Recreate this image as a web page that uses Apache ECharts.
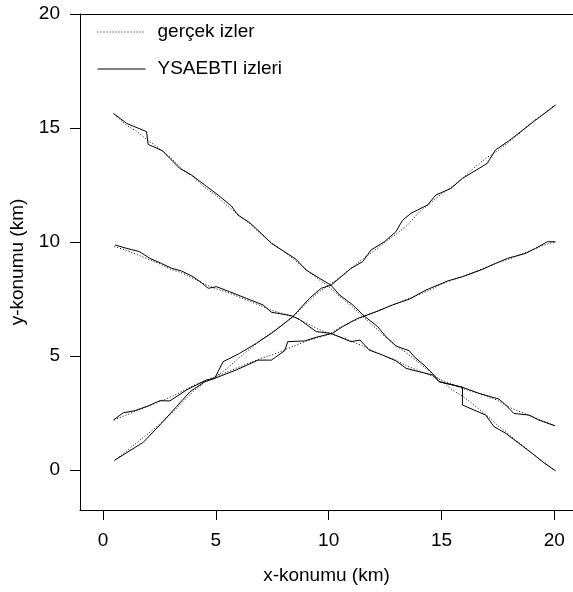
<!DOCTYPE html>
<html>
<head>
<meta charset="utf-8">
<script src="https://cdn.jsdelivr.net/npm/echarts@6/dist/echarts.min.js"></script>
<style>
  html, body { margin: 0; padding: 0; background: #fff; }
  #chart { width: 573px; height: 592px; }
</style>
</head>
<body>
<div id="chart"></div>
<script>
// true tracks (dotted) and YSAEBTI estimates (solid), [x, y] in km
const trueA = [[0.5,15.6],[1.0,15.15],[1.5,14.85],[2.0,14.45],[2.5,14.1],[3.0,13.7],[3.5,13.2],[4.0,12.85],[4.5,12.4],[5.0,12.05],[5.5,11.6],[6.0,11.2],[6.5,10.8],[7.0,10.35],[7.5,9.95],[8.0,9.6],[8.5,9.2],[9.0,8.8],[9.5,8.4],[10.0,8.05],[10.5,7.6],[11.0,7.2],[11.5,6.75],[12.0,6.3],[12.5,5.85],[13.0,5.45],[13.5,5.1],[14.0,4.7],[14.5,4.3],[15.0,3.9],[15.5,3.5],[16.0,3.2],[16.5,2.8],[17.0,2.4],[17.5,1.95],[18.0,1.55],[18.5,1.15],[19.0,0.75],[19.5,0.35],[20.0,0.0]];
const trueB = [[0.5,9.8],[1.0,9.65],[1.5,9.45],[2.0,9.25],[2.5,9.05],[3.0,8.8],[3.5,8.65],[4.0,8.4],[4.5,8.15],[5.0,7.95],[5.5,7.8],[6.0,7.6],[6.5,7.4],[7.0,7.2],[7.5,7.0],[8.0,6.85],[8.5,6.7],[9.0,6.45],[9.5,6.2],[10.0,6.0],[10.5,5.85],[11.0,5.65],[11.5,5.45],[12.0,5.2],[12.5,5.0],[13.0,4.8],[13.5,4.55],[14.0,4.35],[14.5,4.15],[15.0,3.95],[15.5,3.75],[16.0,3.55],[16.5,3.4],[17.0,3.25],[17.5,3.05],[18.0,2.75],[18.5,2.55],[19.0,2.35],[19.5,2.15],[20.0,1.95]];
const trueC = [[0.5,0.4],[1.0,0.8],[1.5,1.2],[2.0,1.6],[2.5,2.0],[3.0,2.45],[3.5,2.95],[4.0,3.45],[4.5,3.85],[5.0,4.1],[5.5,4.45],[6.0,4.9],[6.5,5.3],[7.0,5.7],[7.5,6.05],[8.0,6.4],[8.5,6.8],[9.0,7.3],[9.5,7.75],[10.0,8.1],[10.5,8.45],[11.0,8.85],[11.5,9.25],[12.0,9.6],[12.5,10.0],[13.0,10.35],[13.5,10.75],[14.0,11.3],[14.5,11.7],[15.0,12.1],[15.5,12.45],[16.0,12.85],[16.5,13.3],[17.0,13.7],[17.5,14.0],[18.0,14.4],[18.5,14.8],[19.0,15.25],[19.5,15.6],[20.0,16.0]];
const trueD = [[0.5,2.2],[1.0,2.4],[1.5,2.6],[2.0,2.8],[2.5,3.0],[3.0,3.2],[3.5,3.45],[4.0,3.7],[4.5,3.9],[5.0,4.1],[5.5,4.3],[6.0,4.5],[6.5,4.7],[7.0,4.9],[7.5,5.05],[8.0,5.25],[8.5,5.45],[9.0,5.65],[9.5,5.8],[10.0,5.95],[10.5,6.25],[11.0,6.5],[11.5,6.7],[12.0,6.9],[12.5,7.1],[13.0,7.3],[13.5,7.5],[14.0,7.7],[14.5,7.9],[15.0,8.15],[15.5,8.35],[16.0,8.5],[16.5,8.7],[17.0,8.9],[17.5,9.1],[18.0,9.25],[18.5,9.45],[19.0,9.65],[19.5,9.85],[20.0,10.0]];

const estA = [[0.46,15.64],[1.05,15.2],[1.93,14.84],[2.0,14.28],[2.64,14.0],[2.96,13.67],[3.4,13.23],[3.92,12.94],[4.51,12.5],[5.1,12.06],[5.69,11.58],[5.98,11.18],[6.5,10.85],[7.01,10.38],[7.46,9.94],[7.97,9.62],[8.56,9.24],[9.0,8.77],[9.59,8.41],[10.1,8.11],[10.48,7.68],[11.07,7.24],[11.58,6.75],[12.17,6.29],[12.54,5.85],[12.98,5.44],[13.57,5.23],[13.79,4.97],[14.23,4.6],[14.6,4.24],[14.9,3.87],[15.93,3.63],[15.93,2.85],[16.96,2.41],[17.33,1.9],[17.85,1.61],[18.43,1.17],[19.02,0.73],[19.54,0.32],[20.06,-0.04]];
const estB = [[0.53,9.87],[1.05,9.72],[1.61,9.58],[2.08,9.28],[2.59,9.06],[3.04,8.85],[3.48,8.73],[3.99,8.48],[4.36,8.22],[4.66,7.97],[5.03,8.04],[5.61,7.82],[6.35,7.53],[7.09,7.24],[7.46,6.92],[8.34,6.77],[8.71,6.6],[9.45,6.07],[10.04,6.0],[10.18,5.96],[10.99,5.63],[11.39,5.7],[11.8,5.26],[12.39,5.04],[12.98,4.79],[13.43,4.46],[14.01,4.31],[14.6,4.17],[14.9,3.87],[15.93,3.63],[16.67,3.36],[17.55,3.11],[17.85,2.85],[18.21,2.48],[18.88,2.41],[19.32,2.19],[20.03,1.94]];
const estC = [[0.53,0.44],[1.78,1.21],[2.59,2.05],[3.26,2.78],[3.85,3.43],[4.51,3.87],[4.95,4.02],[5.32,4.75],[6.06,5.12],[6.8,5.56],[7.53,6.04],[8.41,6.72],[9.15,7.53],[9.67,7.97],[10.11,8.11],[10.99,8.84],[11.51,9.14],[11.88,9.65],[12.47,10.01],[12.98,10.45],[13.28,10.96],[13.65,11.26],[14.38,11.62],[14.75,12.06],[15.42,12.35],[15.93,12.79],[16.67,13.23],[17.03,13.45],[17.4,14.04],[17.99,14.44],[19.02,15.23],[20.06,16.01]];
const estD = [[0.46,2.19],[0.9,2.51],[1.41,2.6],[2.0,2.81],[2.52,3.04],[2.96,3.03],[3.7,3.51],[4.58,3.95],[4.95,4.02],[5.91,4.39],[6.87,4.82],[7.46,4.82],[8.05,5.23],[8.19,5.63],[8.93,5.66],[9.45,5.82],[10.18,6.0],[10.62,6.29],[11.29,6.65],[12.1,6.94],[12.83,7.24],[13.57,7.49],[14.31,7.89],[15.27,8.29],[15.93,8.48],[16.74,8.77],[17.4,9.06],[17.92,9.28],[18.73,9.5],[19.17,9.72],[19.69,10.01],[20.06,10.01]];

const tickValues = [0, 5, 10, 15, 20];
const trueName = "gerçek izler";
const estName = "YSAEBTI izleri";

const font = "'Liberation Sans', Arial, sans-serif";
const chart = echarts.init(document.getElementById("chart"));

function track(name, data, dotted) {
    return {
        name: name,
        type: "line",
        data: data,
        symbol: "none",
        showSymbol: false,
        silent: true,
        color: "#000",
        itemStyle: { color: "#000" },
        lineStyle: { color: "#000", width: 1, type: dotted ? [1, 2] : "solid" }
    };
}

const option = {
    animation: false,
    backgroundColor: "#fff",
    color: ["#000"],
    textStyle: { fontFamily: font },
    grid: { left: 80, top: 14, right: 0, bottom: 82 },
    legend: {
        data: [trueName, estName],
        orient: "vertical",
        left: 97,
        top: 22,
        padding: 0,
        itemWidth: 48,
        itemHeight: 13,
        itemGap: 17,
        selectedMode: false,
        itemStyle: { opacity: 0 },
        lineStyle: { width: 1 },
        textStyle: { fontSize: 19, color: "#000", fontFamily: font, lineHeight: 20, padding: [0, 0, 0, 7] }
    },
    xAxis: [
        {
            type: "value",
            position: "bottom",
            min: -1.02,
            max: 20.83,
            splitLine: { show: false },
            axisLine: { show: true, onZero: false, lineStyle: { color: "#000", width: 1 } },
            axisTick: { show: true, length: 10, customValues: tickValues, lineStyle: { color: "#000" } },
            axisLabel: { customValues: tickValues, fontSize: 19, color: "#000", margin: 21, fontFamily: font },
            name: "x-konumu (km)",
            nameLocation: "middle",
            nameGap: 56,
            nameTextStyle: { fontSize: 19, color: "#000", fontFamily: font }
        },
        {
            type: "value",
            position: "top",
            min: -1.02,
            max: 20.83,
            splitLine: { show: false },
            axisLine: { show: true, onZero: false, lineStyle: { color: "#000", width: 1 } },
            axisTick: { show: false },
            axisLabel: { show: false }
        }
    ],
    yAxis: {
        type: "value",
        min: -1.754,
        max: 20,
        splitLine: { show: false },
        axisLine: { show: true, onZero: false, lineStyle: { color: "#000", width: 1 } },
        axisTick: { show: true, length: 10, customValues: tickValues, lineStyle: { color: "#000" } },
        axisLabel: { customValues: tickValues, fontSize: 19, color: "#000", margin: 20, fontFamily: font },
        name: "y-konumu (km)",
        nameLocation: "middle",
        nameGap: 53,
        nameTextStyle: { fontSize: 19, color: "#000", fontFamily: font }
    },
    series: [
        track(trueName, trueA, true),
        track(trueName, trueB, true),
        track(trueName, trueC, true),
        track(trueName, trueD, true),
        track(estName, estA, false),
        track(estName, estB, false),
        track(estName, estC, false),
        track(estName, estD, false)
    ]
};

chart.setOption(option);
</script>
</body>
</html>
